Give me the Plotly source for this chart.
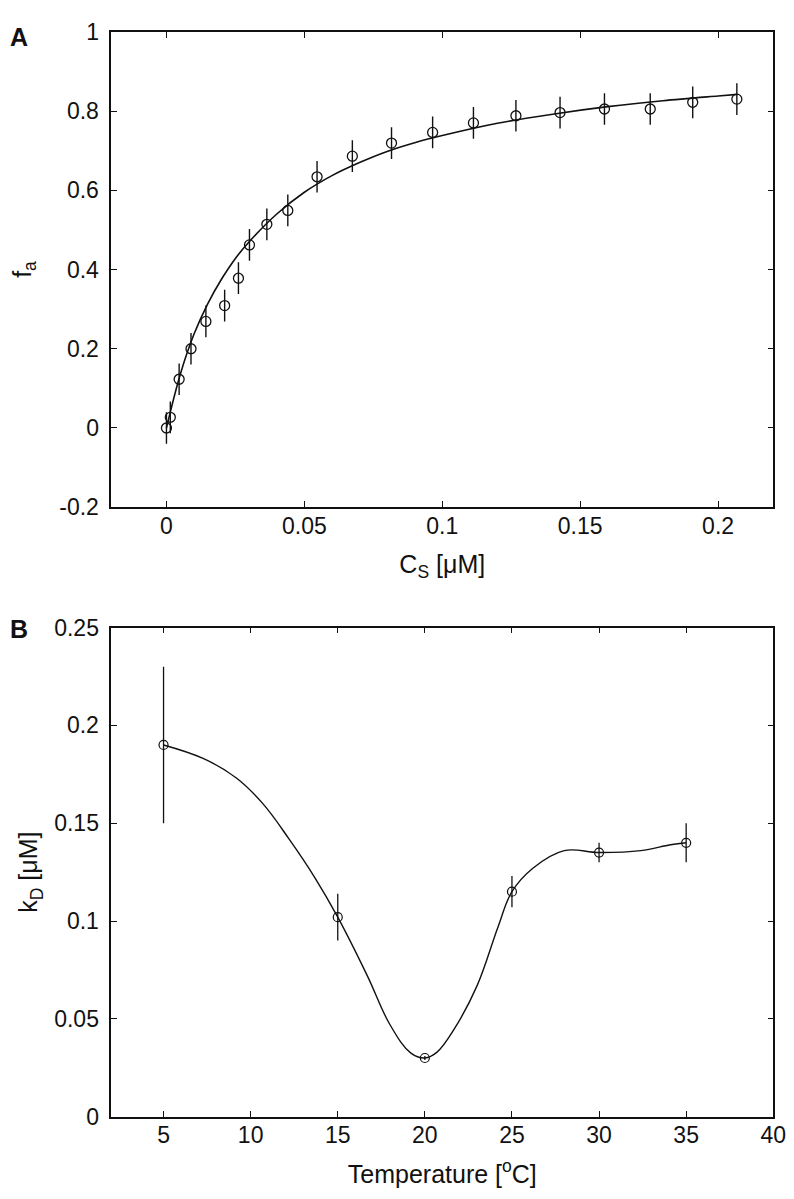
import plotly.graph_objects as go

# ---------------- Panel A data ----------------
cs_uM = [0.0, 0.0014, 0.0046, 0.0089, 0.0143, 0.0211, 0.0261, 0.0301, 0.0364,
         0.0440, 0.0546, 0.0674, 0.0816, 0.0965, 0.1113, 0.1267, 0.1427,
         0.1588, 0.1754, 0.1908, 0.2068]
fa = [0.0, 0.027, 0.123, 0.200, 0.269, 0.309, 0.378, 0.462, 0.514,
      0.549, 0.634, 0.686, 0.719, 0.746, 0.770, 0.788, 0.796,
      0.805, 0.805, 0.822, 0.830]
fa_err = [0.04] * len(fa)

fit_a_x = [0.0, 0.005, 0.01, 0.015, 0.02, 0.025, 0.03, 0.04, 0.05, 0.06,
           0.07, 0.08, 0.09, 0.1, 0.12, 0.14, 0.16, 0.18, 0.2, 0.207]
fit_a_y = [0.0, 0.135, 0.237, 0.314, 0.376, 0.428, 0.470, 0.540, 0.595, 0.637,
           0.670, 0.698, 0.720, 0.738, 0.769, 0.792, 0.811, 0.826, 0.838, 0.842]

# ---------------- Panel B data ----------------
temp_C = [5, 15, 20, 25, 30, 35]
kd_uM = [0.190, 0.102, 0.030, 0.115, 0.135, 0.140]
kd_err = [0.040, 0.012, 0.001, 0.008, 0.005, 0.010]

fit_b_x = [5, 7.3, 9.2, 10.7, 12.2, 13.7, 15, 16.7, 18, 19.2, 20, 20.7, 21.7,
           23, 24.2, 25, 26.2, 28, 30, 32.4, 34.1, 35]
fit_b_y = [0.190, 0.183, 0.173, 0.160, 0.142, 0.122, 0.102, 0.072, 0.047, 0.0325,
           0.030, 0.033, 0.045, 0.067, 0.097, 0.115, 0.127, 0.136, 0.135, 0.136,
           0.139, 0.140]

FONT = "Liberation Sans, Arial, Helvetica, sans-serif"
BLACK = "#111111"

W, H = 794, 1199


def px_x(v):
    return v / W


def px_y(v):
    return 1 - v / H


fig = go.Figure()

fig.add_trace(go.Scatter(
    x=fit_a_x, y=fit_a_y, mode="lines", line=dict(color=BLACK, width=1.6, shape="spline"),
    xaxis="x", yaxis="y", showlegend=False, hoverinfo="skip"))
fig.add_trace(go.Scatter(
    x=cs_uM, y=fa, mode="markers",
    marker=dict(symbol="circle-open", size=10, color=BLACK, line=dict(width=1.3)),
    error_y=dict(type="data", array=fa_err, visible=True, color=BLACK, thickness=1.4, width=0),
    xaxis="x", yaxis="y", showlegend=False))

fig.add_trace(go.Scatter(
    x=fit_b_x, y=fit_b_y, mode="lines",
    line=dict(color=BLACK, width=1.4, shape="spline", smoothing=1.1),
    xaxis="x2", yaxis="y2", showlegend=False, hoverinfo="skip"))
fig.add_trace(go.Scatter(
    x=temp_C, y=kd_uM, mode="markers",
    marker=dict(symbol="circle-open", size=9, color=BLACK, line=dict(width=1.2)),
    error_y=dict(type="data", array=kd_err, visible=True, color=BLACK, thickness=1.3, width=0),
    xaxis="x2", yaxis="y2", showlegend=False))

axis_common = dict(
    showline=True, linecolor=BLACK, linewidth=1.5, mirror="ticks",
    ticks="inside", ticklen=6, tickwidth=1.3, tickcolor=BLACK,
    showgrid=False, zeroline=False, ticklabeloverflow="allow",
    tickfont=dict(family=FONT, size=23, color=BLACK),
)
TITLE_FONT = dict(family=FONT, size=25, color=BLACK)

fig.update_layout(
    width=W, height=H,
    margin=dict(l=0, r=0, t=0, b=0),
    paper_bgcolor="white", plot_bgcolor="white",
    font=dict(family=FONT, color=BLACK),
    xaxis=dict(axis_common, domain=[px_x(105), px_x(778)], range=[-0.02, 0.22],
               tickvals=[0, 0.05, 0.1, 0.15, 0.2], ticktext=["0", "0.05", "0.1", "0.15", "0.2"],
               anchor="y", ticklabelstandoff=-3,
               title=dict(text="C<sub>S</sub> [μM]", font=TITLE_FONT, standoff=18)),
    yaxis=dict(axis_common, domain=[px_y(497), px_y(11)], range=[-0.2, 1.0],
               tickvals=[-0.2, 0, 0.2, 0.4, 0.6, 0.8, 1.0],
               ticktext=["-0.2", "0", "0.2", "0.4", "0.6", "0.8", "1"],
               anchor="x", ticklabelstandoff=6,
               title=dict(text="f<sub>a</sub>", font=TITLE_FONT, standoff=22)),
    xaxis2=dict(axis_common, domain=[px_x(105), px_x(778)], range=[2, 40],
                tickvals=[5, 10, 15, 20, 25, 30, 35, 40], anchor="y2", ticklabelstandoff=-3,
                title=dict(text="Temperature [<sup>o</sup>C]", font=TITLE_FONT, standoff=18)),
    yaxis2=dict(axis_common, domain=[px_y(1120), px_y(620)], range=[0, 0.25],
                tickvals=[0, 0.05, 0.1, 0.15, 0.2, 0.25],
                ticktext=["0", "0.05", "0.1", "0.15", "0.2", "0.25"],
                anchor="x2", ticklabelstandoff=6,
                title=dict(text="k<sub>D</sub> [μM]", font=TITLE_FONT, standoff=9)),
    annotations=[
        dict(text="<b>A</b>", x=0, y=1, xref="paper", yref="paper",
             xanchor="left", yanchor="top", showarrow=False,
             font=dict(family=FONT, size=25, color=BLACK)),
        dict(text="<b>B</b>", x=0, y=px_y(605), xref="paper", yref="paper",
             xanchor="left", yanchor="top", showarrow=False,
             font=dict(family=FONT, size=25, color=BLACK)),
    ],
)

fig.write_html("out.html")
